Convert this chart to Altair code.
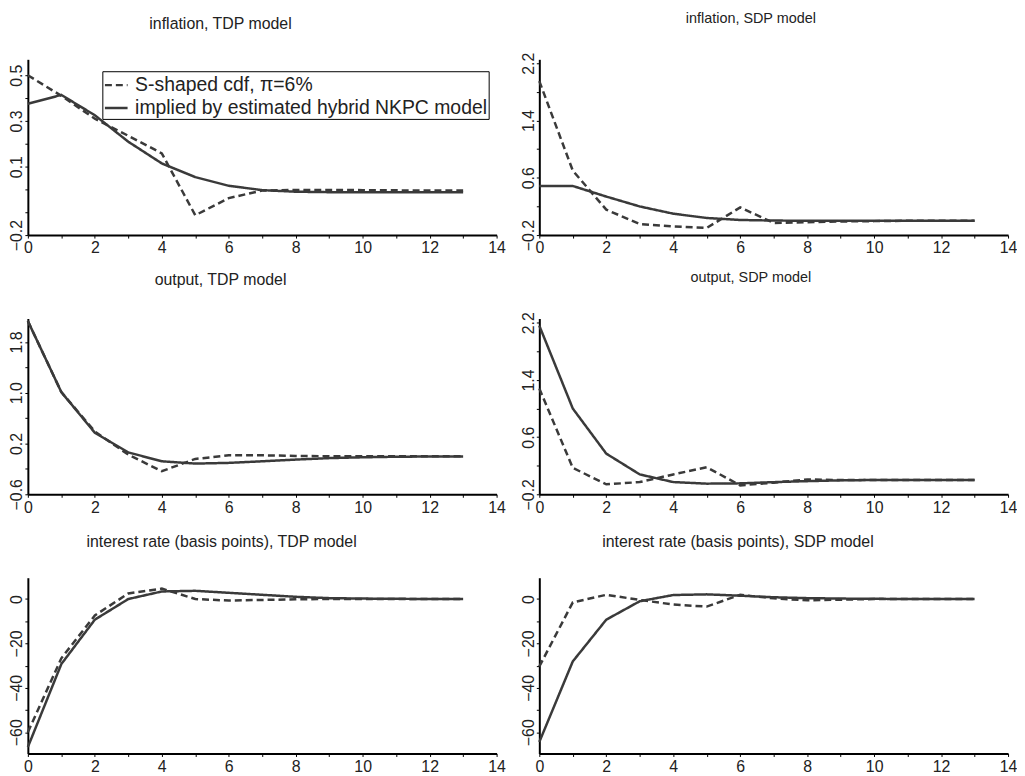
import altair as alt
import pandas as pd

FONT = "Liberation Sans"
LINE_COLOR = "#3a3a3a"

steps = list(range(14))
series_names = ["S-shaped cdf, \u03c0=6%", "implied by estimated hybrid NKPC model"]

titles = [
    "inflation, TDP model", "inflation, SDP model",
    "output, TDP model", "output, SDP model",
    "interest rate (basis points), TDP model", "interest rate (basis points), SDP model",
]

# S-shaped cdf (dashed) and implied hybrid NKPC (solid) responses
infl_tdp_s = [0.50, 0.41, 0.31, 0.235, 0.158, -0.113, -0.038, -0.005, -0.002, -0.002, -0.003, -0.004, -0.005, -0.005]
infl_tdp_h = [0.375, 0.414, 0.325, 0.209, 0.114, 0.054, 0.016, -0.003, -0.01, -0.012, -0.012, -0.012, -0.012, -0.012]
infl_sdp_s = [1.95, 0.70, 0.155, -0.045, -0.08, -0.10, 0.186, -0.03, -0.02, -0.01, -0.005, 0.0, 0.0, 0.0]
infl_sdp_h = [0.486, 0.486, 0.338, 0.20, 0.099, 0.039, 0.011, 0.003, 0.0, 0.0, 0.0, 0.0, 0.0, 0.0]
out_tdp_s = [2.13, 1.01, 0.39, 0.025, -0.236, -0.043, 0.014, 0.014, 0.005, 0.0, 0.0, 0.0, 0.0, 0.0]
out_tdp_h = [2.13, 1.01, 0.37, 0.06, -0.08, -0.116, -0.105, -0.08, -0.053, -0.03, -0.017, -0.008, -0.005, -0.004]
out_sdp_s = [1.28, 0.17, -0.061, -0.029, 0.078, 0.179, -0.075, -0.037, 0.008, 0.0, 0.0, 0.0, 0.0, 0.0]
out_sdp_h = [2.16, 1.0, 0.369, 0.078, -0.029, -0.051, -0.047, -0.03, -0.016, -0.005, 0.0, 0.0, 0.0, 0.0]
rate_tdp_s = [-60.0, -26.7, -7.4, 2.5, 4.7, 0.0, -0.7, -0.4, -0.15, 0.0, 0.0, 0.0, 0.0, 0.0]
rate_tdp_h = [-66.7, -29.3, -9.3, 0.0, 3.4, 3.7, 2.8, 1.9, 1.0, 0.4, 0.2, 0.1, 0.0, 0.0]
rate_sdp_s = [-30.4, -1.5, 1.9, -0.4, -2.5, -3.4, 1.9, 0.3, -0.6, -0.3, 0.0, 0.0, 0.0, 0.0]
rate_sdp_h = [-64.4, -28.1, -9.3, -1.0, 1.8, 2.1, 1.5, 0.8, 0.4, 0.2, 0.1, 0.0, 0.0, 0.0]

# axis settings per panel
y_domains = [[-0.2, 0.57], [-0.2, 2.255], [-0.6, 2.17], [-0.2, 2.26], [-69.6, 9.6], [-69.6, 9.6]]
y_ticks = [
    [-0.2, -0.1, 0.0, 0.1, 0.2, 0.3, 0.4, 0.5],
    [-0.2, 0.2, 0.6, 1.0, 1.4, 1.8, 2.2],
    [-0.6, -0.2, 0.2, 0.6, 1.0, 1.4, 1.8],
    [-0.2, 0.2, 0.6, 1.0, 1.4, 1.8, 2.2],
    [-60, -50, -40, -30, -20, -10, 0],
    [-60, -50, -40, -30, -20, -10, 0],
]
y_labels = [
    [-0.2, 0.1, 0.3, 0.5],
    [-0.2, 0.6, 1.4, 2.2],
    [-0.6, 0.2, 1.0, 1.8],
    [-0.2, 0.6, 1.4, 2.2],
    [-60, -40, -20, 0],
    [-60, -40, -20, 0],
]
y_formats = [".1f", ".1f", ".1f", ".1f", "d", "d"]
x_ticks = list(range(15))
x_labels = [0, 2, 4, 6, 8, 10, 12, 14]
title_dx = [-42, -23, -42, -23, -41, -36]
title_size = [16, 14.5, 16, 14.5, 16, 16]

panels_data = [
    (infl_tdp_s, infl_tdp_h), (infl_sdp_s, infl_sdp_h),
    (out_tdp_s, out_tdp_h), (out_sdp_s, out_sdp_h),
    (rate_tdp_s, rate_tdp_h), (rate_sdp_s, rate_sdp_h),
]

W, H = 472, 177


def label_expr(vals):
    cond = " || ".join(f"abs(datum.value - ({v})) < 1e-6" for v in vals)
    return f"({cond}) ? datum.label : ''"


def panel(i):
    s_vals, h_vals = panels_data[i]
    df = pd.DataFrame({
        "t": steps + steps,
        "v": s_vals + h_vals,
        "series": [series_names[0]] * len(steps) + [series_names[1]] * len(steps),
    })
    if i == 0:
        legend = alt.Legend(
            title=None, orient="none", legendX=75, legendY=12,
            symbolType="stroke", symbolStrokeWidth=2.5, symbolSize=520,
            symbolStrokeColor=LINE_COLOR,
            labelFont=FONT, labelFontSize=19.5, labelColor="#222",
            strokeColor="black", fillColor="white", padding=1,
            rowPadding=0, labelOffset=6, labelLimit=500,
        )
    else:
        legend = None
    return alt.Chart(df).mark_line(strokeWidth=2.5, color=LINE_COLOR).encode(
        x=alt.X("t:Q",
                scale=alt.Scale(domain=[0, 14], nice=False, zero=False),
                axis=alt.Axis(values=x_ticks, labelExpr=label_expr(x_labels), format="d",
                              labelFlush=False)),
        y=alt.Y("v:Q",
                scale=alt.Scale(domain=y_domains[i], nice=False, zero=False),
                axis=alt.Axis(values=y_ticks[i], labelExpr=label_expr(y_labels[i]),
                              format=y_formats[i], labelAngle=-90, labelPadding=0,
                              labelFlush=False)),
        strokeDash=alt.StrokeDash("series:N",
                                  scale=alt.Scale(domain=series_names, range=[[7, 4], [1, 0]]),
                                  legend=legend),
        order=alt.Order("t:Q"),
    ).properties(
        width=W, height=H,
        title=alt.TitleParams(titles[i], fontSize=title_size[i], font=FONT, fontWeight="normal",
                              color="#222", dx=title_dx[i], offset=12, baseline="bottom",
                              frame="group"),
    )


chart = alt.concat(
    *[panel(i) for i in range(6)], columns=2,
    spacing={"row": 84, "column": 43},
    bounds="flush",
).resolve_scale(strokeDash="independent").resolve_legend(strokeDash="independent").properties(
    padding={"left": 0, "top": 0, "right": 0, "bottom": 0}
).configure_view(stroke=None).configure_axis(
    grid=False, title=None, domainColor="black", domainWidth=2, tickColor="black",
    tickSize=3, tickWidth=1, labelFont=FONT, labelFontSize=16, labelColor="#222",
    labelPadding=2,
)

chart.save("out.html", embed_options={"renderer": "svg", "actions": False})
